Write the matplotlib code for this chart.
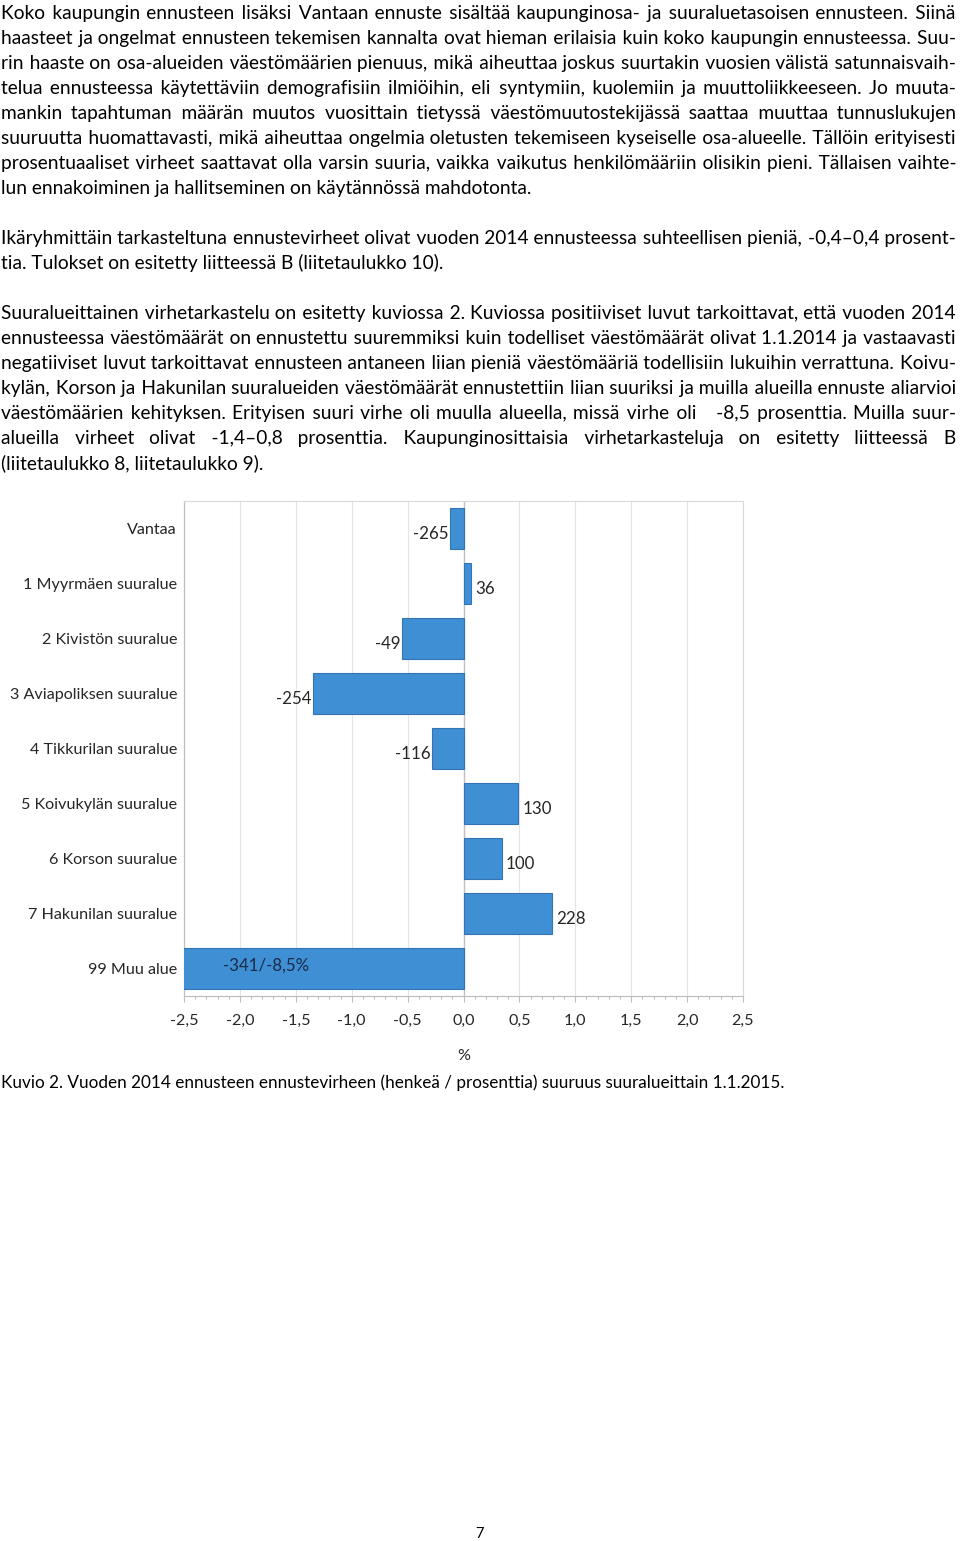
import numpy as np
import matplotlib.pyplot as plt
from matplotlib.ticker import MultipleLocator, FuncFormatter

# ==================== DATA ====================
categories = [
    "Vantaa",
    "1 Myyrmäen suuralue",
    "2 Kivistön suuralue",
    "3 Aviapoliksen suuralue",
    "4 Tikkurilan suuralue",
    "5 Koivukylän suuralue",
    "6 Korson suuralue",
    "7 Hakunilan suuralue",
    "99 Muu alue",
]
error_pct = [-0.12, 0.07, -0.55, -1.35, -0.28, 0.49, 0.34, 0.79, -8.5]
error_persons = [-265, 36, -49, -254, -116, 130, 100, 228, -341]

para1 = [
    "Koko kaupungin ennusteen lisäksi Vantaan ennuste sisältää kaupunginosa- ja suuraluetasoisen ennusteen. Siinä",
    "haasteet ja ongelmat ennusteen tekemisen kannalta ovat hieman erilaisia kuin koko kaupungin ennusteessa. Suu-",
    "rin haaste on osa-alueiden väestömäärien pienuus, mikä aiheuttaa joskus suurtakin vuosien välistä satunnaisvaih-",
    "telua ennusteessa käytettäviin demografisiin ilmiöihin, eli syntymiin, kuolemiin ja muuttoliikkeeseen. Jo muuta-",
    "mankin tapahtuman määrän muutos vuosittain tietyssä väestömuutostekijässä saattaa muuttaa tunnuslukujen",
    "suuruutta huomattavasti, mikä aiheuttaa ongelmia oletusten tekemiseen kyseiselle osa-alueelle. Tällöin erityisesti",
    "prosentuaaliset virheet saattavat olla varsin suuria, vaikka vaikutus henkilömääriin olisikin pieni. Tällaisen vaihte-",
    "lun ennakoiminen ja hallitseminen on käytännössä mahdotonta.",
]
para2 = [
    "Ikäryhmittäin tarkasteltuna ennustevirheet olivat vuoden 2014 ennusteessa suhteellisen pieniä, -0,4–0,4 prosent-",
    "tia. Tulokset on esitetty liitteessä B (liitetaulukko 10).",
]
para3 = [
    "Suuralueittainen virhetarkastelu on esitetty kuviossa 2. Kuviossa positiiviset luvut tarkoittavat, että vuoden 2014",
    "ennusteessa väestömäärät on ennustettu suuremmiksi kuin todelliset väestömäärät olivat 1.1.2014 ja vastaavasti",
    "negatiiviset luvut tarkoittavat ennusteen antaneen liian pieniä väestömääriä todellisiin lukuihin verrattuna. Koivu-",
    "kylän, Korson ja Hakunilan suuralueiden väestömäärät ennustettiin liian suuriksi ja muilla alueilla ennuste aliarvioi",
    "väestömäärien kehityksen. Erityisen suuri virhe oli muulla alueella, missä virhe oli   -8,5 prosenttia. Muilla suur-",
    "alueilla virheet olivat -1,4–0,8 prosenttia. Kaupunginosittaisia virhetarkasteluja on esitetty liitteessä B",
    "(liitetaulukko 8, liitetaulukko 9).",
]
caption = "Kuvio 2. Vuoden 2014 ennusteen ennustevirheen (henkeä / prosenttia) suuruus suuralueittain 1.1.2015."
page_no = "7"

# ==================== STYLE ====================
W, H = 960, 1541
FONT = ["Lato", "DejaVu Sans"]
BODY_FS = 13.8
BAR_COLOR = "#3f8fd4"
BAR_EDGE = "#3574b2"
TEXT_COLOR = "#262626"
HAIR = "\u200a"

plt.rcParams["font.family"] = FONT

fig = plt.figure(figsize=(W / 100, H / 100), dpi=100)
renderer = fig.canvas.get_renderer()


def text_width(s, size):
    t = fig.text(0, 0, s, fontsize=size)
    w = t.get_window_extent(renderer).width
    t.remove()
    return w


def put_line(text, base_px, justify=True, x0=1, x1=956, size=BODY_FS):
    # one Text per line; justification is done by padding the gaps with hair spaces
    y = 1 - base_px / H
    t = fig.text(x0 / W, y, text, fontsize=size, va="baseline", ha="left")
    if not justify:
        return
    words = text.split(" ")
    ngaps = len(words) - 1
    hair_w = text_width("x" + HAIR * 10 + "x", size) - text_width("xx", size)
    hair_w /= 10
    extra = (x1 - x0) - t.get_window_extent(renderer).width
    n_hair = max(int(round(extra / hair_w)), 0)
    counts = [n_hair // ngaps] * ngaps
    rem = n_hair - sum(counts)
    for k in range(rem):
        counts[int((k + 0.5) * ngaps / rem)] += 1
    out = words[0]
    for c, w in zip(counts, words[1:]):
        out += " " + HAIR * c + w
    t.set_text(out)


def put_paragraph(lines, first_base, step=25):
    for i, ln in enumerate(lines):
        put_line(ln, first_base + i * step, justify=(i < len(lines) - 1))


put_paragraph(para1, 19)
put_paragraph(para2, 244)
put_paragraph(para3, 319)

# ==================== CHART ====================
ax = fig.add_axes([184 / W, 1 - 996 / H, (743 - 184) / W, (996 - 501) / H])
y = np.arange(len(categories))
ax.barh(y, error_pct, height=0.75, color=BAR_COLOR, edgecolor=BAR_EDGE,
        linewidth=0.8, zorder=3)
ax.set_xlim(-2.5, 2.5)
ax.set_ylim(len(categories) - 0.5, -0.5)
ax.set_yticks(y)
ax.set_yticklabels(categories, fontsize=11.6, color=TEXT_COLOR)
ax.tick_params(axis="y", length=0, pad=5)

ax.xaxis.set_major_locator(MultipleLocator(0.5))
ax.xaxis.set_minor_locator(MultipleLocator(0.1))
ax.xaxis.set_major_formatter(FuncFormatter(lambda v, p: f"{v:.1f}".replace(".", ",").replace("-0,0", "0,0")))
ax.tick_params(axis="x", which="major", length=4, width=0.8, color="#bfbfbf",
               labelsize=11.6, labelcolor=TEXT_COLOR, pad=9)
ax.tick_params(axis="x", which="minor", length=2.5, width=0.8, color="#bfbfbf")
ax.grid(axis="x", which="major", color="#e4e4e4", linewidth=0.8, zorder=0)
ax.axvline(0, color="#c0c0c0", linewidth=1.0, zorder=2)

for side in ["top", "right"]:
    ax.spines[side].set_color("#d9d9d9")
    ax.spines[side].set_linewidth(0.8)
for side in ["left", "bottom"]:
    ax.spines[side].set_color("#c0c0c0")
    ax.spines[side].set_linewidth(0.9)

ax.set_xlabel("%", fontsize=11.6, color=TEXT_COLOR, labelpad=15)

# data labels
for i, (v, n) in enumerate(zip(error_pct, error_persons)):
    if v < -2.5:
        ax.annotate(f"{n}/{str(v).replace('.', ',')}%", xy=(-2.15, i), xytext=(0, 2),
                    textcoords="offset points", ha="left", va="center",
                    fontsize=12.2, color="#1b2a47", zorder=4)
    elif v < 0:
        ax.annotate(str(n), xy=(v, i), xytext=(-1, -4), textcoords="offset points",
                    ha="right", va="center", fontsize=12.2, color=TEXT_COLOR, zorder=4)
    else:
        ax.annotate(str(n), xy=(v, i), xytext=(3, -4), textcoords="offset points",
                    ha="left", va="center", fontsize=12.2, color=TEXT_COLOR, zorder=4)

# ==================== CAPTION / PAGE ====================
fig.text(1 / W, 1 - 1088 / H, caption, fontsize=12.3, va="baseline", ha="left")
fig.text(479 / W, 1 - 1538 / H, page_no, fontsize=10.5, va="baseline", ha="center")

fig.savefig("out.png", dpi=100, facecolor="white")
